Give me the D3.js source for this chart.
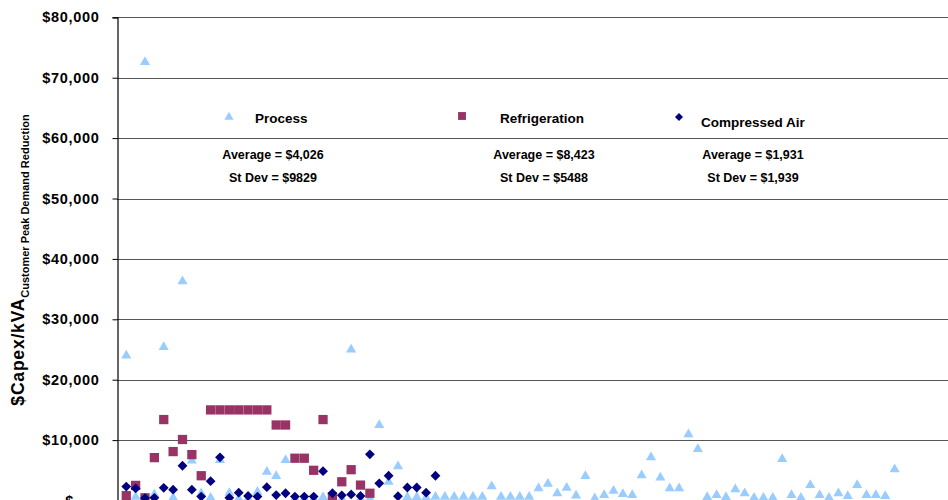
<!DOCTYPE html>
<html>
<head>
<meta charset="utf-8">
<script src="https://cdn.jsdelivr.net/npm/d3@7"></script>
<style>
  html, body { margin: 0; padding: 0; background: #fff; overflow: hidden; }
  svg { display: block; }
  text { font-family: "Liberation Sans", Arial, sans-serif; font-weight: bold; fill: #000; }
</style>
</head>
<body>
<svg id="chart" width="948" height="500"></svg>
<script>
// ---- data ----
const processValues = [
  24000, 600, 72600, 1000, 25400, 450, 36300, 6600, 1200, 450,
  6700, 1250, 300, 300, 1450, 4750, 4050, 6700, 300, 300,
  300, 550, 300, 300, 25000, 300, 300, 12500, 3100, 5650,
  550, 550, 500, 600, 600, 600, 600, 600, 600, 2350,
  600, 600, 600, 600, 2000, 2750, 1200, 2100, 800, 4050,
  350, 900, 1600, 1050, 900, 4150, 7150, 3800, 2000, 2000,
  10950, 8500, 550, 900, 550, 1850, 1200, 450, 450, 450,
  6850, 900, 450, 2550, 900, 450, 1200, 750, 2550, 900,
  900, 750, 5150
];
const refrigerationValues = [
  800, 2500, 450, 7100, 13400, 8100, 10100, 7600, 4100, 15000,
  15000, 15000, 15000, 15000, 15000, 15000, 12500, 12500, 7000, 7000,
  5000, 13400, 600, 3100, 5100, 2550, 1200
];
const compressedAirValues = [
  2300, 2000, 400, 450, 2100, 1800, 5750, 1800, 650, 3200,
  7150, 450, 1300, 750, 650, 2200, 900, 1200, 650, 650,
  650, 4850, 1200, 850, 1000, 750, 7650, 2850, 4100, 700,
  2150, 2150, 1300, 4100
];
const seriesNames = ["Process", "Refrigeration", "Compressed Air"];
const averageLabels = ["Average = $4,026", "Average = $8,423", "Average = $1,931"];
const stdevLabels = ["St Dev = $9829", "St Dev = $5488", "St Dev = $1,939"];
const yTicks = [0, 10000, 20000, 30000, 40000, 50000, 60000, 70000, 80000];

const colors = { "Process": "#99CCFF", "Refrigeration": "#993366", "Compressed Air": "#000080" };

const svg = d3.select("#chart");

const x = d3.scaleLinear().domain([0, 90]).range([116.9, 116.9 + 90 * 9.37]);
const y = d3.scaleLinear().domain([0, 80000]).range([500.5, 17.3]);

// gridlines
svg.append("g")
  .selectAll("line")
  .data(yTicks.filter(d => d > 0))
  .join("line")
  .attr("x1", x(0)).attr("x2", x(90))
  .attr("y1", d => Math.round(y(d)) + 0.5).attr("y2", d => Math.round(y(d)) + 0.5)
  .attr("stroke", "#555").attr("stroke-width", 1);

// y axis
const yAxis = d3.axisLeft(y)
  .tickValues(yTicks)
  .tickSize(5)
  .tickPadding(13)
  .tickFormat(d => d === 0 ? "$-" : "$" + d3.format(",")(d));
const ax = svg.append("g")
  .attr("transform", `translate(${Math.round(x(0)) + 0.5},0)`)
  .call(yAxis);
ax.select(".domain").attr("stroke", "#000").attr("stroke-width", 1.2);
ax.selectAll(".tick line").attr("stroke", "#000");
ax.selectAll(".tick text")
  .style("font-size", "14.5px")
  .style("letter-spacing", "0.7px")
  .attr("fill", "#000");
ax.selectAll(".tick text").filter(d => d === 0).attr("dx", -20);

// y axis title (rotated)
const title = svg.append("text")
  .attr("transform", "translate(24,260) rotate(-90)")
  .attr("text-anchor", "middle");
title.append("tspan").text("$Capex/kVA").style("font-size", "17.5px").style("letter-spacing", "0.8px");
title.append("tspan").text("Customer Peak Demand Reduction").style("font-size", "11px").attr("dy", 5);

// marks
const symTri = d3.symbol().type(d3.symbolTriangle).size(44);
const symSq = d3.symbol().type(d3.symbolSquare).size(86);
const symDia = d3.symbol().type(d3.symbolSquare).size(48);

svg.append("g").selectAll("path")
  .data(processValues)
  .join("path")
  .attr("d", symTri)
  .attr("transform", (d, i) => `translate(${x(i + 1)},${y(d)})`)
  .attr("fill", colors["Process"]);

svg.append("g").selectAll("path")
  .data(refrigerationValues)
  .join("path")
  .attr("d", symSq)
  .attr("transform", (d, i) => `translate(${x(i + 1)},${y(d)})`)
  .attr("fill", colors["Refrigeration"]);

svg.append("g").selectAll("path")
  .data(compressedAirValues)
  .join("path")
  .attr("d", symDia)
  .attr("transform", (d, i) => `translate(${x(i + 1)},${y(d)}) rotate(45)`)
  .attr("fill", colors["Compressed Air"]);

// legend / stats text
const legendMarkerPos = [[229, 117], [462, 116], [679, 117]];
const legendTextPos = [[255, 118], [500, 118], [701, 122]];
const statsCenters = [273, 544, 753];
const legendSyms = [
  d3.symbol().type(d3.symbolTriangle).size(36)(),
  d3.symbol().type(d3.symbolSquare).size(62)(),
  d3.symbol().type(d3.symbolSquare).size(32)()
];
seriesNames.forEach((name, i) => {
  svg.append("path")
    .attr("d", legendSyms[i])
    .attr("transform", `translate(${legendMarkerPos[i][0]},${legendMarkerPos[i][1]})` + (i === 2 ? " rotate(45)" : ""))
    .attr("fill", colors[name]);
  svg.append("text")
    .attr("x", legendTextPos[i][0]).attr("y", legendTextPos[i][1])
    .attr("dominant-baseline", "central")
    .style("font-size", "13.5px")
    .text(name);
  svg.append("text")
    .attr("x", statsCenters[i]).attr("y", 155)
    .attr("text-anchor", "middle").attr("dominant-baseline", "central")
    .style("font-size", "12.5px")
    .text(averageLabels[i]);
  svg.append("text")
    .attr("x", statsCenters[i]).attr("y", 178)
    .attr("text-anchor", "middle").attr("dominant-baseline", "central")
    .style("font-size", "12.5px")
    .text(stdevLabels[i]);
});
</script>
</body>
</html>
